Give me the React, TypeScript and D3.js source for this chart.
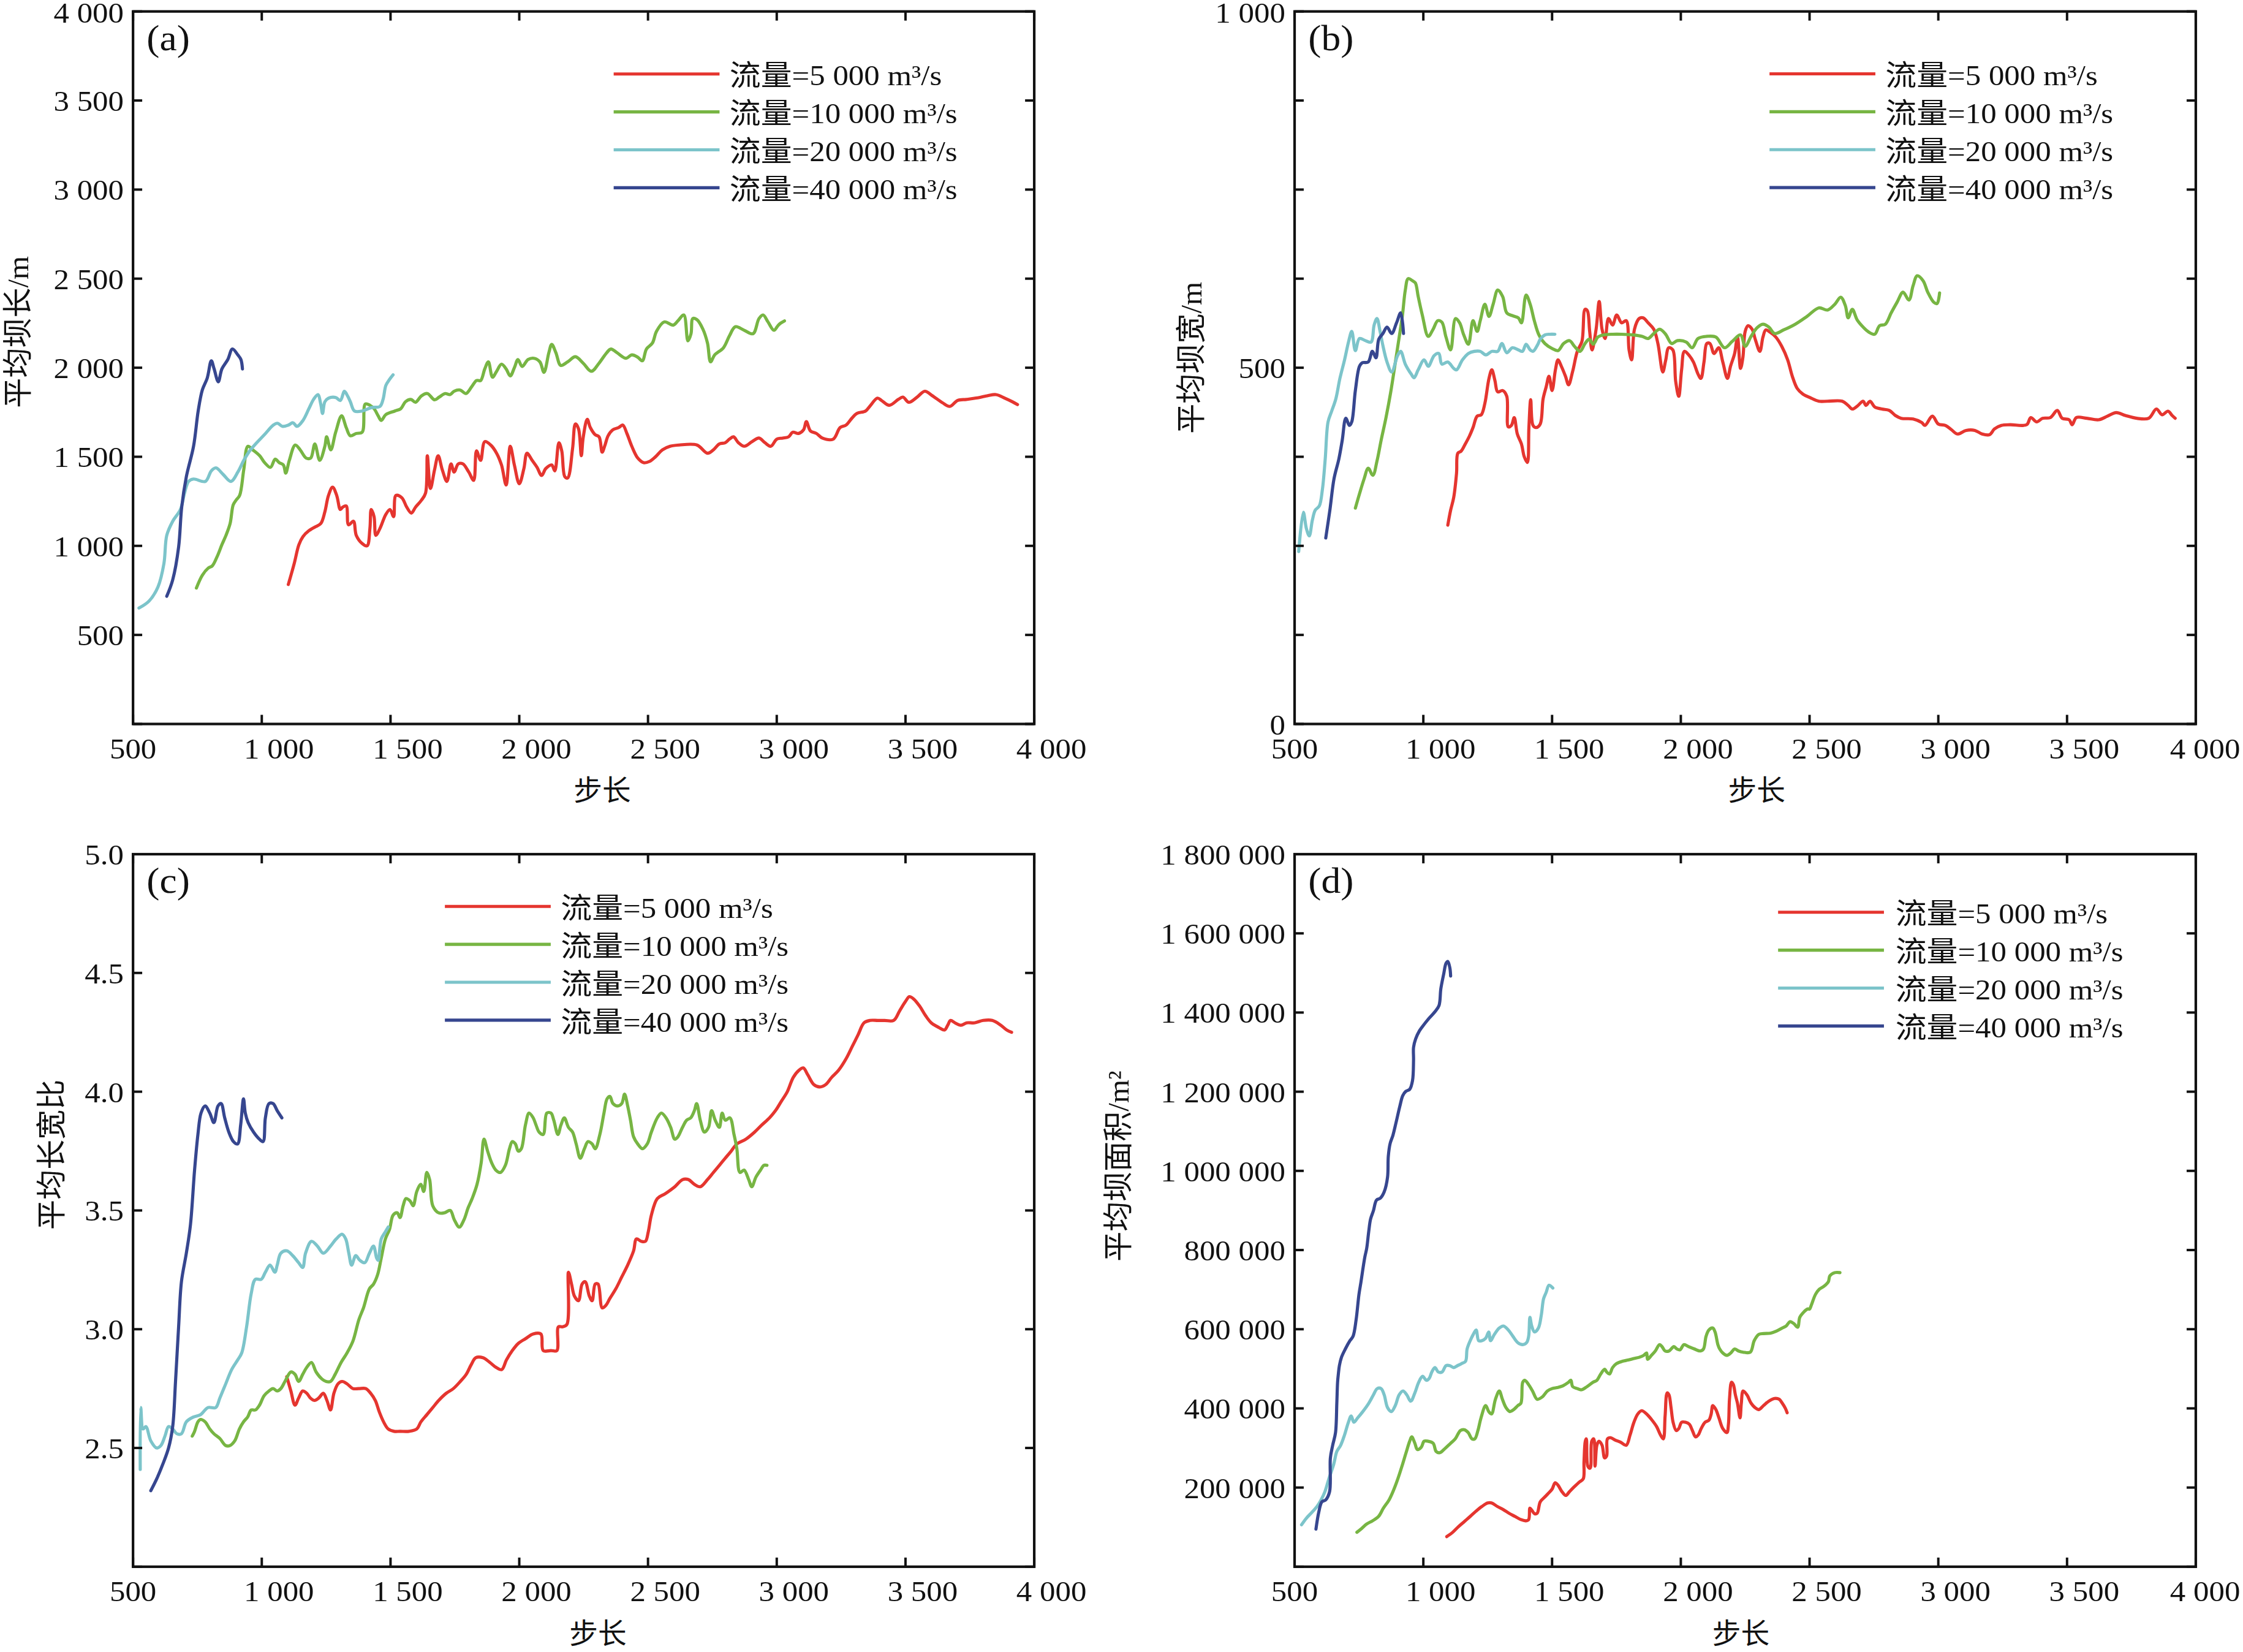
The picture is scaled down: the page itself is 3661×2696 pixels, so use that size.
import React, { useEffect, useRef } from 'react';
import * as d3 from 'd3';

type Pt = [number, number];

// legend categories and colours
const flowLabels = ['5 000', '10 000', '20 000', '40 000'];
const flowColors = ['#e5352f', '#77b543', '#7cc4ca', '#36468f'];

const xTicks = [500, 1000, 1500, 2000, 2500, 3000, 3500, 4000];

// (a) 平均坝长/m
const aYTicks = [0, 500, 1000, 1500, 2000, 2500, 3000, 3500, 4000];
const aYLabeled = [500, 1000, 1500, 2000, 2500, 3000, 3500, 4000];

const lengthQ5000: Pt[] = [
  [1103, 783], [1126, 901], [1144, 1006], [1160, 1052], [1183, 1085], [1206, 1105], [1229, 1125], [1245, 1191],
  [1259, 1283], [1275, 1329], [1291, 1283], [1305, 1204], [1314, 1217], [1328, 1224], [1337, 1118], [1356, 1138],
  [1367, 1059], [1390, 1013], [1409, 1000], [1420, 1098], [1425, 1204], [1436, 1164], [1443, 1059], [1459, 1098],
  [1482, 1177], [1498, 1204], [1512, 1164], [1521, 1283], [1544, 1270], [1563, 1217], [1581, 1184], [1597, 1217],
  [1620, 1256], [1636, 1296], [1643, 1506], [1655, 1322], [1671, 1427], [1685, 1506], [1701, 1427], [1719, 1362],
  [1735, 1460], [1747, 1414], [1763, 1460], [1781, 1460], [1804, 1414], [1823, 1368], [1834, 1533], [1850, 1480],
  [1866, 1585], [1889, 1566], [1912, 1520], [1931, 1454], [1949, 1342], [1965, 1559], [1981, 1454], [2000, 1349],
  [2018, 1434], [2030, 1520], [2050, 1480], [2069, 1441], [2087, 1395], [2103, 1434], [2126, 1454], [2138, 1421],
  [2154, 1579], [2165, 1533], [2177, 1388], [2188, 1381], [2207, 1546], [2218, 1684], [2230, 1658], [2241, 1506],
  [2248, 1605], [2264, 1710], [2276, 1664], [2294, 1625], [2310, 1612], [2322, 1526], [2333, 1566], [2345, 1618],
  [2363, 1651], [2386, 1664], [2402, 1678], [2418, 1631], [2437, 1559], [2460, 1493], [2483, 1467], [2506, 1474],
  [2529, 1500], [2556, 1539], [2586, 1559], [2621, 1566], [2690, 1566], [2731, 1520], [2754, 1539], [2777, 1572],
  [2800, 1579], [2816, 1599], [2832, 1612], [2851, 1579], [2874, 1559], [2904, 1585], [2931, 1605], [2954, 1579],
  [2977, 1559], [3000, 1599], [3023, 1605], [3046, 1612], [3062, 1638], [3085, 1631], [3104, 1651], [3115, 1697],
  [3131, 1645], [3154, 1631], [3177, 1605], [3219, 1599], [3246, 1664], [3269, 1678], [3292, 1717], [3311, 1743],
  [3345, 1757], [3361, 1783], [3391, 1829], [3407, 1816], [3437, 1789], [3472, 1822], [3490, 1835], [3513, 1806],
  [3545, 1835], [3575, 1868], [3605, 1842], [3644, 1803], [3672, 1783], [3702, 1816], [3736, 1822], [3771, 1829],
  [3817, 1842], [3851, 1849], [3886, 1829], [3915, 1809], [3935, 1793],
];

const lengthQ10000: Pt[] = [
  [746, 763], [769, 835], [792, 875], [808, 888], [827, 941], [845, 1006], [861, 1059], [877, 1125], [889, 1230],
  [900, 1256], [914, 1283], [930, 1427], [946, 1559], [965, 1539], [992, 1506], [1011, 1467], [1034, 1441],
  [1052, 1487], [1068, 1467], [1084, 1454], [1093, 1408], [1107, 1480], [1130, 1566], [1149, 1539], [1172, 1493],
  [1190, 1493], [1206, 1572], [1225, 1480], [1245, 1559], [1252, 1612], [1268, 1539], [1287, 1638], [1310, 1730],
  [1328, 1664], [1344, 1618], [1367, 1631], [1390, 1638], [1402, 1796], [1420, 1789], [1436, 1770], [1452, 1730],
  [1464, 1704], [1482, 1737], [1517, 1757], [1540, 1770], [1558, 1809], [1579, 1822], [1597, 1806], [1620, 1842],
  [1643, 1855], [1671, 1820], [1689, 1835], [1712, 1855], [1731, 1849], [1747, 1868], [1770, 1875], [1793, 1855],
  [1816, 1895], [1834, 1928], [1850, 1928], [1866, 1993], [1880, 2033], [1896, 1947], [1912, 1980], [1931, 2020],
  [1949, 1993], [1965, 1954], [1981, 2000], [1995, 2046], [2011, 2007], [2034, 2046], [2057, 2053], [2080, 2033],
  [2096, 1974], [2115, 2085], [2126, 2131], [2142, 2085], [2161, 2013], [2188, 2033], [2218, 2062], [2248, 2026],
  [2280, 1980], [2310, 2026], [2340, 2085], [2356, 2105], [2379, 2085], [2414, 2053], [2437, 2072], [2460, 2059],
  [2478, 2039], [2494, 2105], [2517, 2138], [2533, 2204], [2563, 2257], [2598, 2239], [2616, 2263], [2639, 2296],
  [2655, 2151], [2667, 2191], [2674, 2276], [2690, 2270], [2713, 2217], [2731, 2138], [2743, 2033], [2759, 2072],
  [2793, 2112], [2816, 2178], [2839, 2230], [2874, 2210], [2908, 2191], [2931, 2276], [2947, 2296], [2966, 2257],
  [2989, 2210], [3005, 2237], [3015, 2250], [3030, 2263],
];

const lengthQ20000: Pt[] = [
  [523, 651], [562, 690], [597, 770], [620, 901], [631, 1059], [654, 1138], [684, 1204], [700, 1296], [716, 1362],
  [735, 1375], [781, 1362], [804, 1421], [822, 1438], [850, 1401], [880, 1362], [907, 1414], [930, 1480],
  [953, 1533], [976, 1572], [1011, 1625], [1045, 1678], [1061, 1688], [1080, 1671], [1103, 1678], [1121, 1691],
  [1137, 1671], [1160, 1704], [1183, 1770], [1201, 1822], [1218, 1849], [1229, 1796], [1236, 1743], [1245, 1809],
  [1259, 1829], [1287, 1833], [1305, 1816], [1321, 1868], [1333, 1842], [1344, 1809], [1360, 1757], [1390, 1757],
  [1425, 1776], [1459, 1783], [1471, 1822], [1482, 1901], [1496, 1934], [1510, 1960],
];

const lengthQ40000: Pt[] = [
  [631, 717], [654, 809], [677, 993], [689, 1217], [707, 1388], [735, 1559], [753, 1757], [769, 1875], [788, 1941],
  [804, 2039], [815, 1993], [831, 1921], [845, 1993], [868, 2046], [886, 2105], [907, 2072], [919, 2046], [925, 1993],
];

// (b) 平均坝宽/m
const bYTicks = [0, 125, 250, 375, 500, 625, 750, 875, 1000];
const bYLabeled = [0, 500, 1000];

const widthQ5000: Pt[] = [
  [1095, 279], [1106, 300], [1118, 318], [1129, 352], [1134, 380], [1147, 383], [1163, 393], [1179, 404],
  [1193, 416], [1209, 432], [1225, 434], [1239, 450], [1255, 485], [1266, 497], [1278, 482], [1289, 466],
  [1308, 468], [1324, 460], [1330, 417], [1342, 419], [1353, 430], [1365, 407], [1381, 393], [1392, 375],
  [1404, 367], [1410, 416], [1417, 455], [1426, 419], [1438, 416], [1454, 421], [1465, 456], [1477, 473],
  [1488, 488], [1500, 468], [1513, 497], [1523, 511], [1536, 502], [1552, 488], [1564, 476], [1580, 495],
  [1598, 523], [1616, 537], [1628, 582], [1637, 580], [1646, 551], [1655, 525], [1671, 554], [1683, 593],
  [1694, 554], [1706, 541], [1719, 569], [1735, 560], [1751, 574], [1770, 563], [1788, 566], [1799, 525],
  [1809, 511], [1820, 554], [1838, 569], [1854, 570], [1873, 563], [1895, 554], [1911, 534], [1930, 494],
  [1941, 510], [1953, 528], [1969, 525], [1980, 481], [1992, 460], [2003, 497], [2014, 523], [2033, 517],
  [2049, 508], [2067, 491], [2078, 485], [2090, 508], [2101, 534], [2113, 534], [2129, 520], [2147, 528],
  [2163, 508], [2181, 485], [2193, 502], [2209, 520], [2220, 543], [2232, 499], [2241, 514], [2250, 551],
  [2261, 559], [2277, 554], [2289, 540], [2307, 523], [2319, 543], [2330, 553], [2346, 550], [2369, 543],
  [2392, 530], [2415, 511], [2433, 488], [2452, 471], [2474, 463], [2502, 458], [2536, 453], [2570, 453],
  [2627, 453], [2650, 447], [2666, 442], [2685, 446], [2708, 453], [2719, 447], [2735, 453], [2753, 445],
  [2781, 442], [2810, 440], [2833, 433], [2856, 429], [2902, 428], [2936, 423], [2948, 419], [2977, 432],
  [3000, 421], [3028, 419], [3051, 413], [3074, 407], [3108, 412], [3142, 412], [3170, 407], [3199, 406],
  [3218, 414], [3245, 419], [3279, 420], [3343, 420], [3359, 430], [3382, 424], [3405, 429], [3435, 430],
  [3462, 440], [3481, 429], [3508, 427], [3520, 420], [3536, 430], [3577, 429], [3623, 427], [3657, 432],
  [3691, 437], [3726, 433], [3771, 429], [3817, 429], [3847, 442], [3869, 434], [3892, 439], [3908, 433],
  [3920, 429],
];

const widthQ10000: Pt[] = [
  [736, 303], [752, 323], [770, 344], [786, 359], [804, 349], [820, 369], [836, 398], [855, 430], [873, 465],
  [889, 502], [905, 540], [919, 574], [930, 609], [941, 625], [958, 622], [969, 619], [980, 600], [996, 574],
  [1019, 544], [1038, 554], [1056, 566], [1072, 564], [1088, 543], [1106, 525], [1125, 569], [1141, 563],
  [1157, 546], [1175, 533], [1193, 566], [1209, 551], [1221, 566], [1239, 589], [1255, 572], [1271, 589],
  [1289, 609], [1308, 600], [1324, 577], [1346, 573], [1369, 570], [1381, 563], [1399, 602], [1415, 589],
  [1431, 566], [1449, 546], [1472, 534], [1500, 527], [1523, 524], [1545, 534], [1568, 538], [1587, 530],
  [1609, 523], [1628, 534], [1644, 540], [1660, 533], [1678, 543], [1701, 546], [1735, 547], [1770, 547],
  [1815, 546], [1850, 544], [1873, 541], [1895, 548], [1918, 554], [1941, 547], [1964, 534], [1987, 538],
  [2021, 536], [2044, 528], [2067, 541], [2101, 544], [2136, 543], [2170, 528], [2200, 537], [2232, 546],
  [2250, 530], [2273, 544], [2296, 556], [2319, 561], [2342, 557], [2364, 548], [2399, 553], [2444, 561],
  [2490, 572], [2536, 584], [2570, 581], [2598, 589], [2621, 599], [2639, 587], [2650, 570], [2666, 582],
  [2685, 567], [2708, 557], [2730, 550], [2753, 547], [2772, 559], [2794, 561], [2817, 577], [2840, 592],
  [2863, 606], [2886, 595], [2902, 615], [2918, 629], [2941, 622], [2959, 606], [2982, 592], [2995, 590],
  [3005, 605],
];

const widthQ20000: Pt[] = [
  [516, 242], [534, 297], [546, 274], [557, 264], [569, 286], [580, 300], [596, 306], [608, 329], [619, 372],
  [630, 424], [644, 439], [660, 456], [676, 485], [694, 511], [710, 537], [722, 551], [736, 524], [752, 541],
  [775, 538], [797, 536], [809, 560], [820, 569], [832, 551], [843, 531], [859, 508], [877, 494], [900, 517],
  [912, 523], [930, 505], [953, 491], [964, 486], [980, 497], [1003, 511], [1019, 502], [1042, 517], [1060, 520],
  [1072, 505], [1095, 508], [1118, 499], [1129, 497], [1152, 511], [1175, 520], [1198, 523], [1221, 523],
  [1243, 518], [1266, 523], [1289, 523], [1305, 534], [1324, 521], [1346, 528], [1369, 525], [1385, 523],
  [1399, 533], [1415, 525], [1426, 523], [1445, 533], [1454, 540], [1472, 546], [1491, 547], [1511, 547],
];

const widthQ40000: Pt[] = [
  [621, 261], [637, 300], [653, 344], [672, 372], [685, 398], [699, 429], [713, 419], [722, 424], [736, 468],
  [752, 502], [763, 507], [786, 508], [802, 523], [816, 514], [827, 540], [843, 548], [859, 557], [877, 548],
  [896, 563], [912, 577], [923, 548],
];

// (c) 平均长宽比
const cYTicks = [2.0, 2.5, 3.0, 3.5, 4.0, 4.5, 5.0];
const cYLabeled = [2.5, 3.0, 3.5, 4.0, 4.5, 5.0];

const ratioQ5000: Pt[] = [
  [1097, 2.8], [1113, 2.74], [1129, 2.68], [1143, 2.71], [1159, 2.74], [1175, 2.73], [1189, 2.71], [1205, 2.7],
  [1221, 2.71], [1239, 2.73], [1253, 2.7], [1267, 2.66], [1280, 2.73], [1296, 2.77], [1312, 2.78], [1331, 2.77],
  [1354, 2.75], [1377, 2.75], [1404, 2.75], [1423, 2.73], [1441, 2.7], [1457, 2.65], [1473, 2.61], [1491, 2.58],
  [1514, 2.57], [1537, 2.57], [1572, 2.57], [1602, 2.58], [1618, 2.61], [1641, 2.64], [1664, 2.67], [1687, 2.7],
  [1716, 2.73], [1744, 2.75], [1771, 2.78], [1794, 2.81], [1813, 2.85], [1831, 2.88], [1859, 2.88], [1886, 2.86],
  [1909, 2.84], [1932, 2.83], [1950, 2.87], [1973, 2.91], [1996, 2.94], [2024, 2.96], [2054, 2.98], [2084, 2.98],
  [2093, 2.91], [2123, 2.91], [2146, 2.91], [2152, 3.01], [2168, 3.01], [2185, 3.02], [2191, 3.24], [2203, 3.19],
  [2214, 3.14], [2230, 3.12], [2244, 3.19], [2256, 3.2], [2272, 3.14], [2283, 3.12], [2295, 3.19], [2306, 3.19],
  [2322, 3.09], [2336, 3.1], [2352, 3.13], [2375, 3.17], [2398, 3.22], [2421, 3.27], [2444, 3.33], [2455, 3.38],
  [2474, 3.37], [2490, 3.37], [2501, 3.41], [2513, 3.48], [2536, 3.55], [2566, 3.57], [2604, 3.6], [2634, 3.63],
  [2657, 3.63], [2680, 3.61], [2703, 3.6], [2731, 3.63], [2754, 3.66], [2777, 3.69], [2800, 3.72], [2823, 3.75],
  [2845, 3.78], [2880, 3.8], [2914, 3.83], [2942, 3.86], [2972, 3.89], [2995, 3.92], [3018, 3.96], [3041, 4.0],
  [3064, 4.06], [3086, 4.09], [3103, 4.1], [3121, 4.07], [3144, 4.03], [3167, 4.02], [3190, 4.03], [3213, 4.06],
  [3240, 4.09], [3270, 4.14], [3293, 4.19], [3316, 4.24], [3339, 4.29], [3362, 4.3], [3392, 4.3], [3419, 4.3],
  [3454, 4.3], [3477, 4.34], [3500, 4.38], [3515, 4.4], [3532, 4.39], [3555, 4.36], [3578, 4.32], [3600, 4.29],
  [3630, 4.27], [3652, 4.26], [3664, 4.28], [3675, 4.3], [3692, 4.29], [3715, 4.28], [3738, 4.29], [3768, 4.29],
  [3802, 4.3], [3837, 4.3], [3870, 4.28], [3893, 4.26], [3912, 4.25],
];

const ratioQ10000: Pt[] = [
  [730, 2.55], [739, 2.57], [752, 2.61], [762, 2.62], [780, 2.61], [798, 2.58], [814, 2.56], [837, 2.54],
  [860, 2.51], [876, 2.51], [895, 2.53], [913, 2.58], [929, 2.61], [945, 2.63], [959, 2.66], [975, 2.66],
  [991, 2.68], [1009, 2.72], [1028, 2.74], [1044, 2.75], [1060, 2.74], [1074, 2.75], [1090, 2.78], [1113, 2.82],
  [1129, 2.81], [1143, 2.78], [1159, 2.81], [1175, 2.84], [1193, 2.86], [1211, 2.82], [1234, 2.79], [1250, 2.78],
  [1267, 2.78], [1285, 2.81], [1308, 2.86], [1331, 2.9], [1354, 2.95], [1377, 3.04], [1395, 3.09], [1418, 3.17],
  [1434, 3.19], [1450, 3.23], [1464, 3.3], [1480, 3.38], [1496, 3.42], [1510, 3.48], [1526, 3.49], [1537, 3.47],
  [1549, 3.52], [1560, 3.55], [1576, 3.54], [1588, 3.52], [1602, 3.58], [1618, 3.61], [1629, 3.58], [1641, 3.66],
  [1652, 3.63], [1664, 3.52], [1687, 3.49], [1709, 3.49], [1732, 3.5], [1748, 3.46], [1767, 3.43], [1785, 3.46],
  [1801, 3.51], [1817, 3.55], [1836, 3.61], [1852, 3.7], [1863, 3.8], [1877, 3.75], [1893, 3.7], [1909, 3.67],
  [1927, 3.66], [1946, 3.69], [1962, 3.76], [1973, 3.79], [1985, 3.78], [1996, 3.75], [2008, 3.76], [2024, 3.86],
  [2038, 3.91], [2054, 3.89], [2065, 3.86], [2077, 3.83], [2093, 3.82], [2107, 3.91], [2123, 3.91], [2134, 3.88],
  [2150, 3.82], [2162, 3.86], [2175, 3.89], [2191, 3.85], [2207, 3.83], [2221, 3.78], [2237, 3.72], [2253, 3.76],
  [2267, 3.79], [2283, 3.78], [2295, 3.76], [2313, 3.82], [2329, 3.91], [2341, 3.97], [2352, 3.98], [2364, 3.95],
  [2382, 3.94], [2398, 3.95], [2409, 3.99], [2421, 3.94], [2432, 3.88], [2444, 3.81], [2460, 3.78], [2478, 3.76],
  [2497, 3.78], [2513, 3.83], [2536, 3.89], [2552, 3.91], [2570, 3.89], [2588, 3.85], [2604, 3.8], [2616, 3.81],
  [2634, 3.85], [2650, 3.88], [2666, 3.89], [2680, 3.92], [2689, 3.95], [2703, 3.88], [2719, 3.83], [2735, 3.85],
  [2747, 3.92], [2761, 3.88], [2777, 3.85], [2788, 3.91], [2800, 3.88], [2818, 3.89], [2834, 3.82], [2845, 3.76],
  [2857, 3.66], [2873, 3.67], [2891, 3.63], [2903, 3.6], [2919, 3.64], [2937, 3.67], [2950, 3.69], [2962, 3.69],
];

const ratioQ20000: Pt[] = [
  [528, 2.41], [530, 2.67], [539, 2.58], [550, 2.59], [569, 2.53], [592, 2.5], [608, 2.51], [624, 2.55],
  [638, 2.59], [654, 2.58], [670, 2.56], [688, 2.56], [707, 2.61], [734, 2.63], [762, 2.64], [791, 2.67],
  [821, 2.67], [837, 2.71], [860, 2.77], [883, 2.83], [906, 2.87], [922, 2.9], [941, 3.01], [959, 3.15],
  [975, 3.21], [998, 3.21], [1014, 3.24], [1032, 3.27], [1051, 3.24], [1060, 3.27], [1074, 3.32], [1097, 3.33],
  [1120, 3.31], [1143, 3.28], [1159, 3.26], [1170, 3.32], [1193, 3.37], [1216, 3.35], [1239, 3.32], [1267, 3.35],
  [1289, 3.38], [1312, 3.4], [1326, 3.38], [1338, 3.32], [1349, 3.27], [1365, 3.31], [1381, 3.29], [1400, 3.28],
  [1418, 3.32], [1434, 3.35], [1446, 3.3], [1452, 3.29], [1464, 3.38], [1480, 3.41], [1491, 3.43],
];

const ratioQ40000: Pt[] = [
  [569, 2.32], [592, 2.37], [615, 2.43], [638, 2.5], [654, 2.59], [665, 2.78], [677, 3.01], [688, 3.2],
  [707, 3.32], [723, 3.44], [739, 3.67], [752, 3.82], [764, 3.91], [780, 3.94], [798, 3.91], [814, 3.87],
  [830, 3.94], [842, 3.95], [856, 3.89], [872, 3.83], [890, 3.79], [906, 3.78], [918, 3.86], [929, 3.97],
  [936, 3.91], [947, 3.87], [968, 3.83], [991, 3.8], [1005, 3.79], [1014, 3.89], [1028, 3.95], [1044, 3.95],
  [1060, 3.92], [1078, 3.89],
];

// (d) 平均坝面积/m²
const dYTicks = [0, 200000, 400000, 600000, 800000, 1000000, 1200000, 1400000, 1600000, 1800000];
const dYLabeled = [200000, 400000, 600000, 800000, 1000000, 1200000, 1400000, 1600000, 1800000];

const areaQ5000: Pt[] = [
  [1091, 76000], [1114, 87000], [1136, 101000], [1159, 114000], [1182, 127000], [1204, 140000], [1227, 152000],
  [1250, 161000], [1265, 161000], [1288, 152000], [1311, 144000], [1333, 135000], [1356, 127000], [1379, 119000],
  [1397, 116000], [1409, 119000], [1414, 148000], [1421, 143000], [1432, 134000], [1442, 135000], [1454, 164000],
  [1470, 175000], [1485, 185000], [1500, 196000], [1512, 212000], [1523, 206000], [1538, 190000], [1553, 180000],
  [1568, 190000], [1588, 203000], [1606, 214000], [1621, 222000], [1624, 265000], [1629, 317000], [1633, 323000],
  [1639, 254000], [1648, 249000], [1654, 317000], [1662, 323000], [1667, 254000], [1674, 307000], [1682, 317000],
  [1694, 307000], [1704, 275000], [1712, 280000], [1715, 323000], [1727, 326000], [1745, 320000], [1765, 315000],
  [1788, 307000], [1803, 333000], [1818, 365000], [1833, 386000], [1848, 394000], [1867, 386000], [1886, 372000],
  [1906, 354000], [1921, 333000], [1932, 323000], [1939, 381000], [1947, 439000], [1954, 434000], [1962, 402000],
  [1970, 365000], [1982, 344000], [1992, 349000], [2003, 365000], [2018, 365000], [2033, 360000], [2045, 344000],
  [2057, 328000], [2068, 333000], [2079, 349000], [2094, 365000], [2109, 370000], [2118, 386000], [2124, 407000],
  [2136, 397000], [2148, 376000], [2163, 349000], [2179, 339000], [2185, 360000], [2189, 423000], [2197, 466000],
  [2204, 460000], [2212, 434000], [2220, 413000], [2230, 376000], [2235, 413000], [2242, 444000], [2257, 434000],
  [2273, 413000], [2288, 402000], [2303, 397000], [2321, 407000], [2341, 418000], [2364, 425000], [2382, 423000],
  [2394, 413000], [2406, 400000], [2413, 389000],
];

const areaQ10000: Pt[] = [
  [742, 87000], [761, 97000], [780, 108000], [803, 116000], [826, 127000], [845, 148000], [867, 169000],
  [886, 196000], [901, 222000], [917, 254000], [932, 286000], [947, 317000], [955, 328000], [967, 312000],
  [977, 296000], [992, 302000], [1003, 317000], [1018, 317000], [1038, 312000], [1050, 291000], [1064, 288000],
  [1083, 298000], [1106, 312000], [1124, 323000], [1144, 344000], [1159, 346000], [1174, 339000], [1189, 323000],
  [1200, 323000], [1212, 344000], [1224, 376000], [1242, 407000], [1254, 392000], [1265, 386000], [1280, 423000],
  [1295, 444000], [1307, 423000], [1321, 402000], [1336, 392000], [1351, 397000], [1367, 407000], [1379, 413000],
  [1386, 466000], [1394, 471000], [1409, 460000], [1424, 444000], [1442, 423000], [1462, 429000], [1482, 444000],
  [1500, 450000], [1523, 453000], [1542, 457000], [1564, 466000], [1573, 471000], [1580, 455000], [1598, 450000],
  [1614, 447000], [1636, 455000], [1659, 466000], [1674, 471000], [1689, 487000], [1704, 499000], [1712, 492000],
  [1723, 487000], [1735, 503000], [1750, 513000], [1773, 519000], [1795, 522000], [1818, 526000], [1838, 529000],
  [1856, 534000], [1867, 540000], [1871, 524000], [1886, 534000], [1901, 545000], [1917, 561000], [1927, 556000],
  [1939, 545000], [1954, 545000], [1973, 556000], [1985, 550000], [1997, 548000], [2012, 561000], [2030, 556000],
  [2053, 550000], [2076, 545000], [2088, 550000], [2098, 582000], [2109, 598000], [2124, 603000], [2133, 593000],
  [2144, 561000], [2151, 550000], [2163, 540000], [2179, 534000], [2194, 540000], [2209, 550000], [2224, 545000],
  [2242, 542000], [2270, 542000], [2285, 571000], [2303, 587000], [2321, 589000], [2348, 590000], [2371, 595000],
  [2394, 603000], [2409, 608000], [2424, 619000], [2439, 614000], [2454, 605000], [2462, 630000], [2477, 643000],
  [2492, 651000], [2500, 651000], [2507, 661000], [2523, 688000], [2538, 701000], [2557, 709000], [2573, 720000],
  [2579, 735000], [2598, 743000], [2618, 743000],
];

const areaQ20000: Pt[] = [
  [527, 106000], [545, 122000], [568, 138000], [588, 153000], [603, 169000], [618, 190000], [633, 222000],
  [652, 259000], [664, 291000], [679, 307000], [694, 333000], [709, 365000], [720, 381000], [730, 365000],
  [745, 376000], [765, 392000], [788, 413000], [806, 434000], [821, 450000], [836, 450000], [848, 434000],
  [861, 402000], [876, 392000], [891, 407000], [906, 434000], [921, 444000], [936, 434000], [951, 418000],
  [967, 439000], [982, 466000], [997, 481000], [1012, 471000], [1023, 476000], [1033, 492000], [1045, 503000],
  [1058, 492000], [1073, 492000], [1088, 508000], [1103, 508000], [1118, 503000], [1133, 508000], [1148, 513000],
  [1164, 519000], [1170, 550000], [1182, 571000], [1194, 587000], [1205, 598000], [1215, 571000], [1227, 571000],
  [1242, 577000], [1254, 593000], [1261, 571000], [1276, 587000], [1295, 603000], [1311, 608000], [1330, 598000],
  [1348, 582000], [1367, 566000], [1386, 561000], [1401, 566000], [1409, 582000], [1414, 630000], [1421, 608000],
  [1432, 593000], [1447, 603000], [1458, 635000], [1467, 677000], [1477, 693000], [1488, 711000], [1503, 704000],
];

const areaQ40000: Pt[] = [
  [583, 95000], [594, 138000], [606, 164000], [621, 169000], [636, 190000], [639, 275000], [648, 307000],
  [659, 339000], [664, 413000], [667, 466000], [670, 487000], [674, 508000], [682, 529000], [697, 550000],
  [715, 571000], [727, 582000], [739, 624000], [750, 688000], [758, 720000], [765, 751000], [773, 783000],
  [780, 804000], [788, 847000], [795, 878000], [806, 899000], [818, 926000], [833, 931000], [848, 947000],
  [861, 984000], [864, 1037000], [871, 1069000], [882, 1090000], [894, 1122000], [909, 1164000], [920, 1190000],
  [932, 1201000], [947, 1206000], [958, 1228000], [962, 1280000], [962, 1312000], [970, 1333000], [985, 1354000],
  [1003, 1370000], [1023, 1386000], [1045, 1402000], [1061, 1418000], [1068, 1460000], [1079, 1497000],
  [1088, 1524000], [1095, 1529000], [1103, 1513000], [1106, 1492000],
];

const W = 1568;
const H = 1154.6;
const PW = 630;
const PH = 498;
const FONT = "'Liberation Serif', 'Times New Roman', 'Noto Sans CJK SC', serif";
const STRETCH = 1.09;

const panels = [
  {
    tag: '(a)', yLabel: '平均坝长/m', yDomain: [0, 4000], yTicks: aYTicks, yLabeled: aYLabeled,
    series: [lengthQ5000, lengthQ10000, lengthQ20000, lengthQ40000],
    left: 93, top: 8, legX: 429, legTextX: 510, legY: 51.7, yLabelX: 12.5, yLabelY: 232, xLabelX: 421,
  },
  {
    tag: '(b)', yLabel: '平均坝宽/m', yDomain: [0, 1000], yTicks: bYTicks, yLabeled: bYLabeled,
    series: [widthQ5000, widthQ10000, widthQ20000, widthQ40000],
    left: 905, top: 8, legX: 1237, legTextX: 1318, legY: 51.6, yLabelX: 833, yLabelY: 250, xLabelX: 1228,
  },
  {
    tag: '(c)', yLabel: '平均长宽比', yDomain: [2, 5], yTicks: cYTicks, yLabeled: cYLabeled,
    series: [ratioQ5000, ratioQ10000, ratioQ20000, ratioQ40000],
    left: 93, top: 597, legX: 311, legTextX: 392, legY: 633.5, yLabelX: 36, yLabelY: 807, xLabelX: 418,
  },
  {
    tag: '(d)', yLabel: '平均坝面积/m²', yDomain: [0, 1800000], yTicks: dYTicks, yLabeled: dYLabeled,
    series: [areaQ5000, areaQ10000, areaQ20000, areaQ40000],
    left: 905, top: 597, legX: 1243, legTextX: 1325, legY: 637.6, yLabelX: 782, yLabelY: 815, xLabelX: 1217,
  },
];

const fmtInt = (v: number) => d3.format(',')(v).replace(/,/g, ' ');

const App: React.FC = () => {
  const ref = useRef<SVGSVGElement>(null);

  useEffect(() => {
    if (!ref.current) return;
    const svg = d3.select(ref.current);
    svg.selectAll('*').remove();

    const text = (
      g: d3.Selection<SVGGElement, unknown, null, undefined>,
      x: number, y: number, s: string, size: number, anchor = 'start'
    ) =>
      g.append('text')
        .attr('transform', `translate(${x},${y}) scale(${STRETCH},1)`)
        .attr('text-anchor', anchor)
        .attr('font-family', FONT)
        .attr('font-size', size)
        .attr('fill', '#111')
        .text(s);

    panels.forEach((p) => {
      const g = svg.append('g');
      const x = d3.scaleLinear().domain([500, 4000]).range([p.left, p.left + PW]);
      const y = d3.scaleLinear().domain(p.yDomain).range([p.top + PH, p.top]);
      const bottom = p.top + PH;
      const right = p.left + PW;

      const line = d3.line<Pt>()
        .x((d) => x(d[0]))
        .y((d) => y(d[1]))
        .curve(d3.curveCatmullRom.alpha(0.5));

      p.series.forEach((s, i) => {
        g.append('path')
          .datum(s)
          .attr('d', line)
          .attr('fill', 'none')
          .attr('stroke', flowColors[i])
          .attr('stroke-width', 2.2)
          .attr('stroke-linejoin', 'round')
          .attr('stroke-linecap', 'round');
      });

      // frame and inward ticks on all four sides
      g.append('rect')
        .attr('x', p.left).attr('y', p.top).attr('width', PW).attr('height', PH)
        .attr('fill', 'none').attr('stroke', '#111').attr('stroke-width', 1.8);

      const tl = 6.4;
      xTicks.forEach((v) => {
        g.append('line').attr('x1', x(v)).attr('x2', x(v)).attr('y1', bottom).attr('y2', bottom - tl)
          .attr('stroke', '#111').attr('stroke-width', 1.7);
        g.append('line').attr('x1', x(v)).attr('x2', x(v)).attr('y1', p.top).attr('y2', p.top + tl)
          .attr('stroke', '#111').attr('stroke-width', 1.7);
        const lab = fmtInt(v);
        const cx = x(v) + (lab.includes(' ') ? 12 : 0);
        // keep the last label of the right-hand panels inside the page
        if (cx + 26 > W - 2) text(g, W - 2, bottom + 24, lab, 20, 'end');
        else text(g, cx, bottom + 24, lab, 20, 'middle');
      });

      p.yTicks.forEach((v) => {
        g.append('line').attr('x1', p.left).attr('x2', p.left + tl).attr('y1', y(v)).attr('y2', y(v))
          .attr('stroke', '#111').attr('stroke-width', 1.7);
        g.append('line').attr('x1', right).attr('x2', right - tl).attr('y1', y(v)).attr('y2', y(v))
          .attr('stroke', '#111').attr('stroke-width', 1.7);
      });
      p.yLabeled.forEach((v) => {
        const lab = p.yDomain[1] < 10 ? d3.format('.1f')(v) : fmtInt(v);
        const ty = Math.max(y(v) + 7.3, 16);
        text(g, p.left - 6.5, ty, lab, 20, 'end');
      });

      text(g, p.left + 9.5, p.top + 27, p.tag, 25);

      // axis titles
      g.append('text')
        .attr('transform', `translate(${p.xLabelX},${bottom + 53.5})`)
        .attr('text-anchor', 'middle')
        .attr('font-family', FONT)
        .attr('font-size', 20)
        .attr('fill', '#111')
        .text('步长');
      g.append('text')
        .attr('transform', `translate(${p.yLabelX},${p.yLabelY}) rotate(-90)`)
        .attr('text-anchor', 'middle')
        .attr('dominant-baseline', 'central')
        .attr('font-family', FONT)
        .attr('font-size', 21)
        .attr('fill', '#111')
        .text(p.yLabel);

      // legend
      flowLabels.forEach((lab, i) => {
        const ly = p.legY + i * 26.5;
        g.append('line')
          .attr('x1', p.legX).attr('x2', p.legX + 74).attr('y1', ly).attr('y2', ly)
          .attr('stroke', flowColors[i]).attr('stroke-width', 2.2);
        text(g, p.legTextX, ly + 8, `流量=${lab} m³/s`, 20);
      });
    });
  }, []);

  return (
    <svg
      ref={ref}
      width={3661}
      height={2696}
      viewBox={`0 0 ${W} ${H}`}
      preserveAspectRatio="none"
      style={{ position: 'absolute', left: 0, top: 0, background: '#fff', display: 'block' }}
    />
  );
};

export default App;
